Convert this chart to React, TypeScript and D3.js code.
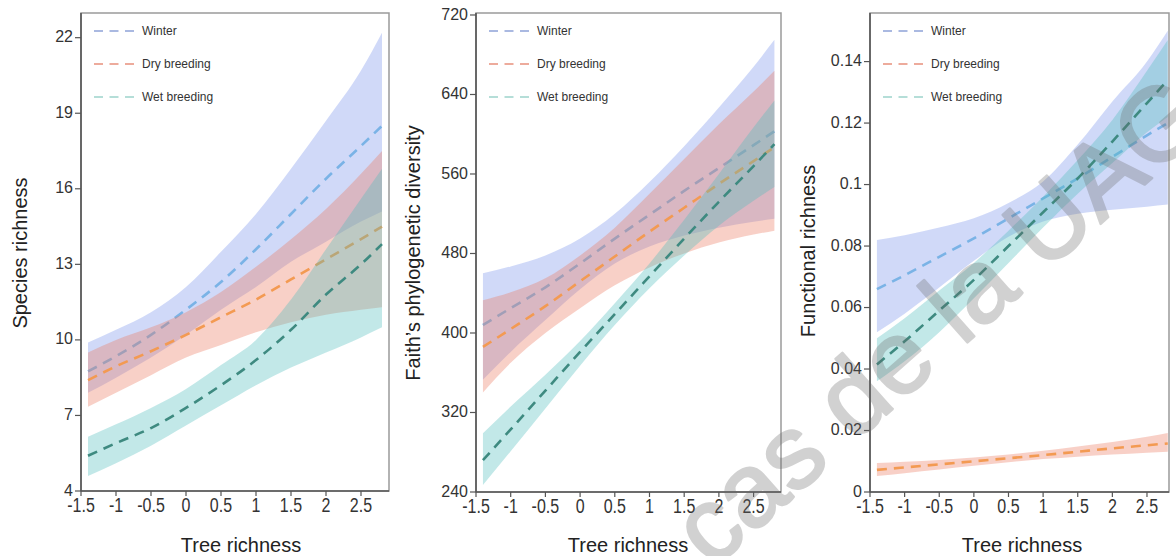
import React from 'react';
import * as d3 from 'd3';

// ---------- data ----------
const treeRichness = [-1.4, -1, -0.5, 0, 0.5, 1, 1.5, 2, 2.5, 2.8];
const seasons = ['Winter', 'Dry breeding', 'Wet breeding'];
const xTicks = [-1.5, -1, -0.5, 0, 0.5, 1, 1.5, 2, 2.5];

// Species richness
const srTicks = [4, 7, 10, 13, 16, 19, 22];
const srWinterMean = [8.75, 9.35, 10.2, 11.2, 12.3, 13.6, 15.0, 16.4, 17.7, 18.5];
const srWinterUpper = [9.9, 10.4, 11.1, 12.1, 13.5, 15.0, 16.8, 18.7, 20.7, 22.2];
const srWinterLower = [7.9, 8.5, 9.3, 10.2, 11.2, 12.1, 13.1, 13.9, 14.7, 15.1];
const srDryMean = [8.4, 8.95, 9.55, 10.2, 10.9, 11.6, 12.4, 13.2, 14.0, 14.5];
const srDryUpper = [9.5, 10.0, 10.5, 11.1, 11.9, 12.9, 14.0, 15.2, 16.6, 17.5];
const srDryLower = [7.35, 7.9, 8.6, 9.3, 9.8, 10.3, 10.7, 11.0, 11.2, 11.3];
const srWetMean = [5.4, 5.9, 6.5, 7.3, 8.2, 9.2, 10.4, 11.8, 13.0, 13.8];
const srWetUpper = [6.15, 6.65, 7.3, 8.05, 9.0, 10.0, 11.6, 13.6, 15.6, 16.8];
const srWetLower = [4.6, 5.1, 5.8, 6.6, 7.4, 8.2, 8.9, 9.5, 10.1, 10.5];

// Faith's phylogenetic diversity
const pdTicks = [240, 320, 400, 480, 560, 640, 720];
const pdWinterMean = [408, 425, 446, 470, 495, 519, 543, 566, 589, 603];
const pdWinterUpper = [460, 467, 478, 495, 520, 552, 588, 627, 668, 695];
const pdWinterLower = [353, 381, 413, 444, 470, 487, 498, 506, 512, 515];
const pdDryMean = [386, 404, 427, 452, 477, 502, 526, 550, 573, 587];
const pdDryUpper = [433, 441, 455, 478, 506, 540, 575, 610, 643, 664];
const pdDryLower = [340, 370, 400, 425, 448, 466, 480, 491, 499, 503];
const pdWetMean = [272, 303, 342, 381, 419, 457, 495, 532, 568, 590];
const pdWetUpper = [299, 326, 358, 392, 430, 470, 514, 560, 607, 634];
const pdWetLower = [247, 281, 324, 367, 408, 445, 478, 508, 533, 547];

// Functional richness
const frTicks = [0, 0.02, 0.04, 0.06, 0.08, 0.1, 0.12, 0.14];
const frWinterMean = [0.066, 0.0705, 0.0765, 0.0825, 0.089, 0.0955, 0.102, 0.109, 0.116, 0.12];
const frWinterUpper = [0.082, 0.0835, 0.086, 0.089, 0.094, 0.101, 0.113, 0.127, 0.14, 0.15];
const frWinterLower = [0.052, 0.058, 0.0665, 0.0752, 0.083, 0.088, 0.0905, 0.0918, 0.0928, 0.0935];
const frDryMean = [0.0072, 0.008, 0.009, 0.01, 0.011, 0.012, 0.0131, 0.0142, 0.0152, 0.0158];
const frDryUpper = [0.0094, 0.0098, 0.0104, 0.0112, 0.0122, 0.0134, 0.0148, 0.0163, 0.018, 0.0192];
const frDryLower = [0.0052, 0.0061, 0.0073, 0.0085, 0.0097, 0.0107, 0.0115, 0.0122, 0.0128, 0.0131];
const frWetMean = [0.0415, 0.049, 0.059, 0.069, 0.08, 0.091, 0.102, 0.114, 0.1265, 0.134];
const frWetUpper = [0.05, 0.0565, 0.0655, 0.0745, 0.085, 0.096, 0.108, 0.121, 0.137, 0.147];
const frWetLower = [0.036, 0.0425, 0.052, 0.063, 0.0745, 0.086, 0.097, 0.107, 0.117, 0.122];

const watermarkText = 'cas de la UAG';

// ---------- styles / layout ----------
const bandFill = ['rgb(120,145,235)', 'rgb(235,120,95)', 'rgb(80,190,190)'];
const lineColor = ['#7ab3e6', '#f39a52', '#3e8a80'];
const legendColor = ['#8fa3d8', '#e8907c', '#9dd4cc'];
const FONT = '"Liberation Sans", Arial, Helvetica, sans-serif';

type Panel = {
  title: string;
  left: number; right: number; top: number; bottom: number;
  xMax: number; yDomain: [number, number]; yTicks: number[];
  mean: number[][]; upper: number[][]; lower: number[][];
  titleX: number; titleY: number; xLabelX: number;
};

const panels: Panel[] = [
  {
    title: 'Species richness', left: 81, right: 389, top: 13, bottom: 491,
    xMax: 2.9, yDomain: [4, 22.98], yTicks: srTicks,
    mean: [srWinterMean, srDryMean, srWetMean],
    upper: [srWinterUpper, srDryUpper, srWetUpper],
    lower: [srWinterLower, srDryLower, srWetLower],
    titleX: 20, titleY: 253, xLabelX: 241,
  },
  {
    title: 'Faith\u2019s phylogenetic diversity', left: 476, right: 781, top: 13, bottom: 492,
    xMax: 2.895, yDomain: [240, 722], yTicks: pdTicks,
    mean: [pdWinterMean, pdDryMean, pdWetMean],
    upper: [pdWinterUpper, pdDryUpper, pdWetUpper],
    lower: [pdWinterLower, pdDryLower, pdWetLower],
    titleX: 413, titleY: 253, xLabelX: 628,
  },
  {
    title: 'Functional richness', left: 870, right: 1169, top: 13, bottom: 492,
    xMax: 2.818, yDomain: [0, 0.1558], yTicks: frTicks,
    mean: [frWinterMean, frDryMean, frWetMean],
    upper: [frWinterUpper, frDryUpper, frWetUpper],
    lower: [frWinterLower, frDryLower, frWetLower],
    titleX: 808, titleY: 251, xLabelX: 1022,
  },
];

const fmt = (v: number) => String(+v.toFixed(3));

function PanelView({ p }: { p: Panel }) {
  const x = d3.scaleLinear().domain([-1.5, p.xMax]).range([p.left, p.right]);
  const y = d3.scaleLinear().domain(p.yDomain).range([p.bottom, p.top]);
  const area = (up: number[], lo: number[]) =>
    d3.area<number>()
      .x((_, i) => x(treeRichness[i]))
      .y0((_, i) => y(lo[i]))
      .y1((_, i) => y(up[i]))
      .curve(d3.curveMonotoneX)(treeRichness) as string;
  const line = (m: number[]) =>
    d3.line<number>()
      .x((_, i) => x(treeRichness[i]))
      .y((_, i) => y(m[i]))
      .curve(d3.curveMonotoneX)(treeRichness) as string;

  return (
    <g>
      {seasons.map((s, k) => (
        <g key={s}>
          <path d={area(p.upper[k], p.lower[k])} fill={bandFill[k]} fillOpacity={0.35} stroke="none" />
          <path d={line(p.mean[k])} fill="none" stroke={lineColor[k]} strokeWidth={2.6} strokeDasharray="10,7" />
        </g>
      ))}
      {/* frame */}
      <rect x={p.left} y={p.top} width={p.right - p.left} height={p.bottom - p.top} fill="none" stroke="#9a9a9a" strokeWidth={1.5} />
      <line x1={p.left} x2={p.left} y1={p.top} y2={p.bottom} stroke="#555" strokeWidth={1.6} />
      <line x1={p.left} x2={p.right} y1={p.bottom} y2={p.bottom} stroke="#555" strokeWidth={1.6} />
      {/* y ticks */}
      {p.yTicks.map((t) => (
        <g key={'y' + t}>
          <line x1={p.left - 6} x2={p.left} y1={y(t)} y2={y(t)} stroke="#555" strokeWidth={1.2} />
          <text x={p.left - 8} y={y(t) - 1} dy="0.35em" textAnchor="end" fontSize={16} fill="#333" fontFamily={FONT}>{fmt(t)}</text>
        </g>
      ))}
      {/* x ticks */}
      {xTicks.map((t) => (
        <g key={'x' + t}>
          <line x1={x(t)} x2={x(t)} y1={p.bottom} y2={p.bottom + 5} stroke="#555" strokeWidth={1.2} />
          <text transform={`translate(${x(t)},${p.bottom + 21}) scale(1,1.25)`} textAnchor="middle" fontSize={16} fill="#333" fontFamily={FONT}>{fmt(t)}</text>
        </g>
      ))}
      {/* axis titles */}
      <text x={p.xLabelX} y={552} textAnchor="middle" fontSize={20} fill="#222" fontFamily={FONT}>Tree richness</text>
      <text transform={`translate(${p.titleX},${p.titleY}) rotate(-90)`} dy="0.35em" textAnchor="middle" fontSize={20} fill="#222" fontFamily={FONT}>{p.title}</text>
      {/* legend */}
      {seasons.map((s, k) => (
        <g key={'lg' + s}>
          <line x1={p.left + 13} x2={p.left + 53} y1={31 + k * 33} y2={31 + k * 33} stroke={legendColor[k]} strokeWidth={1.6} strokeDasharray="9,6.5" />
          <text x={p.left + 61} y={31 + k * 33} dy="0.35em" fontSize={12} fill="#333" fontFamily={FONT}>{s}</text>
        </g>
      ))}
    </g>
  );
}

export default function App() {
  return (
    <svg width={1176} height={556} style={{ position: 'absolute', left: 0, top: 0, background: '#fff' }}>
      <rect x={0} y={0} width={1176} height={556} fill="#fff" />
      {panels.map((p) => <PanelView key={p.title} p={p} />)}
      <g opacity={0.3}>
        <text transform="translate(712,570) rotate(-41.7)" fontSize={104} fill="#6a6a6a"
          stroke="#6a6a6a" strokeWidth={2.5} strokeLinejoin="round" fontFamily={FONT}>{watermarkText}</text>
      </g>
    </svg>
  );
}
